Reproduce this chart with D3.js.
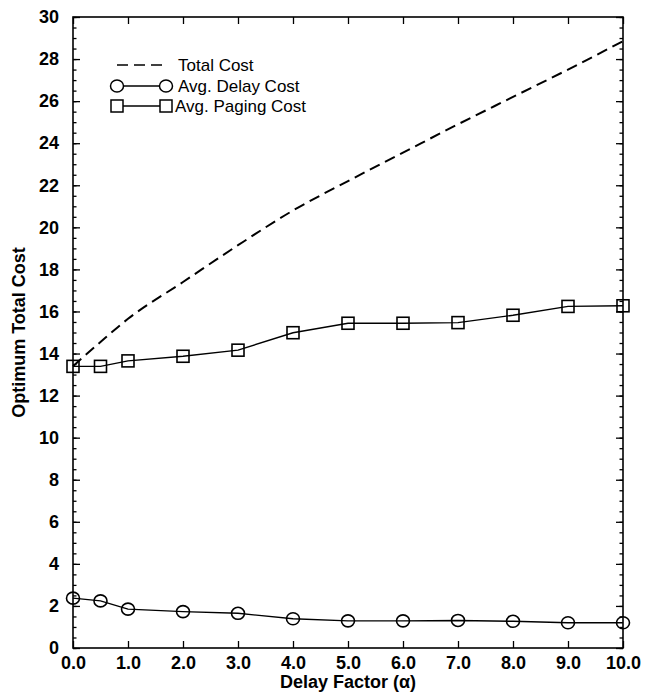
<!DOCTYPE html>
<html>
<head>
<meta charset="utf-8">
<script src="https://cdn.jsdelivr.net/npm/d3@7"></script>
<style>
  body { margin: 0; background: #fff; }
  svg text { font-family: 'Liberation Sans', Arial, sans-serif; fill: #000; }
</style>
</head>
<body>
<svg width="645" height="695"></svg>
<script>
const alphas = [0, 0.5, 1, 2, 3, 4, 5, 6, 7, 8, 9, 10];
const totalCost = [13.4, 14.55, 15.65, 17.4, 19.15, 20.8, 22.2, 23.55, 24.9, 26.2, 27.5, 28.85];
const delayCost = [2.37, 2.24, 1.85, 1.73, 1.65, 1.39, 1.29, 1.29, 1.31, 1.27, 1.2, 1.2];
const pagingCost = [13.39, 13.39, 13.65, 13.87, 14.16, 14.99, 15.44, 15.44, 15.47, 15.82, 16.24, 16.27];
const xTicks = [0, 1, 2, 3, 4, 5, 6, 7, 8, 9, 10];
const yTicks = d3.range(0, 31, 2);
const yMinorTicks = d3.range(0, 30.01, 0.5);
const legendLabels = ['Total Cost', 'Avg. Delay Cost', 'Avg. Paging Cost'];

const svg = d3.select('svg');
const width = +svg.attr('width');
const height = +svg.attr('height');

const margin = {top: 17, right: 22, bottom: 47, left: 73};
const innerWidth = width - margin.left - margin.right;
const innerHeight = height - margin.top - margin.bottom;

const xScale = d3.scaleLinear()
	.domain([0, 10])
	.range([0, innerWidth]);

const yScale = d3.scaleLinear()
	.domain([0, 30])
	.range([innerHeight, 0]);

const g = svg.append('g')
	.attr('transform', `translate(${margin.left}, ${margin.top})`);

// frame
g.append('rect')
	.attr('width', innerWidth)
	.attr('height', innerHeight)
	.attr('fill', 'none')
	.attr('stroke', '#000')
	.attr('stroke-width', 1.6);

// inward ticks on all four sides
const styleAxis = sel => {
	sel.select('.domain').remove();
	sel.selectAll('.tick line').attr('stroke', '#000').attr('stroke-width', 1.3);
	sel.selectAll('.tick text')
		.attr('font-size', 18)
		.attr('font-weight', 'bold')
		.attr('font-family', "'Liberation Sans', Arial, sans-serif");
};
const noLabels = sel => {
	styleAxis(sel);
	sel.selectAll('.tick text').remove();
};

g.append('g')
	.call(d3.axisLeft(yScale).tickValues(yMinorTicks).tickSize(-3.5))
	.call(noLabels);
g.append('g')
	.attr('transform', `translate(${innerWidth}, 0)`)
	.call(d3.axisRight(yScale).tickValues(yMinorTicks).tickSize(-3.5))
	.call(noLabels);

g.append('g')
	.call(d3.axisLeft(yScale).tickValues(yTicks).tickSize(-7).tickPadding(14).tickFormat(d3.format('d')))
	.call(styleAxis);

g.append('g')
	.attr('transform', `translate(${innerWidth}, 0)`)
	.call(d3.axisRight(yScale).tickValues(yTicks).tickSize(-7))
	.call(noLabels);

g.append('g')
	.attr('transform', `translate(0, ${innerHeight})`)
	.call(d3.axisBottom(xScale).tickValues(xTicks).tickSize(-7).tickPadding(8).tickFormat(d3.format('.1f')))
	.call(styleAxis);

g.append('g')
	.call(d3.axisTop(xScale).tickValues(xTicks).tickSize(-7))
	.call(noLabels);

// axis titles
g.append('text')
	.attr('x', innerWidth / 2)
	.attr('y', innerHeight + 40)
	.attr('text-anchor', 'middle')
	.attr('font-size', 18)
	.attr('font-weight', 'bold')
	.text('Delay Factor (α)');

g.append('text')
	.attr('transform', `rotate(-90)`)
	.attr('x', -innerHeight / 2)
	.attr('y', -48)
	.attr('text-anchor', 'middle')
	.attr('font-size', 18)
	.attr('font-weight', 'bold')
	.text('Optimum Total Cost');

// series
const points = values => alphas.map((a, i) => ({x: a, y: values[i]}));

const lineGenerator = d3.line()
	.x(d => xScale(d.x))
	.y(d => yScale(d.y));

g.append('path')
	.attr('d', lineGenerator.curve(d3.curveMonotoneX)(points(totalCost)))
	.attr('fill', 'none')
	.attr('stroke', '#000')
	.attr('stroke-width', 2)
	.attr('stroke-dasharray', '11,6');

lineGenerator.curve(d3.curveLinear);

[delayCost, pagingCost].forEach(values => {
	g.append('path')
		.attr('d', lineGenerator(points(values)))
		.attr('fill', 'none')
		.attr('stroke', '#000')
		.attr('stroke-width', 1.4);
});

g.selectAll('.circle-mark')
	.data(points(delayCost))
	.enter().append('ellipse')
		.attr('cx', d => xScale(d.x))
		.attr('cy', d => yScale(d.y))
		.attr('rx', 6.5)
		.attr('ry', 6)
		.attr('fill', 'none')
		.attr('stroke', '#000')
		.attr('stroke-width', 1.6);

g.selectAll('.square-mark')
	.data(points(pagingCost))
	.enter().append('rect')
		.attr('x', d => xScale(d.x) - 6)
		.attr('y', d => yScale(d.y) - 6)
		.attr('width', 12)
		.attr('height', 12)
		.attr('fill', 'none')
		.attr('stroke', '#000')
		.attr('stroke-width', 1.6);

// legend
const legend = svg.append('g');
const legendRows = [65, 86, 106];
const symX = [117, 166];

legendRows.forEach((y, i) => {
	const line = legend.append('line')
		.attr('x1', symX[0]).attr('x2', symX[1])
		.attr('y1', y).attr('y2', y)
		.attr('stroke', '#000');
	if (i === 0) {
		line.attr('stroke-width', 1.5).attr('stroke-dasharray', '11,6');
	} else {
		line.attr('stroke-width', 1.3);
		symX.forEach(x => {
			if (i === 1) {
				legend.append('ellipse')
					.attr('cx', x).attr('cy', y)
					.attr('rx', 6.5).attr('ry', 6)
					.attr('fill', '#fff').attr('stroke', '#000').attr('stroke-width', 1.5);
			} else {
				legend.append('rect')
					.attr('x', x - 6).attr('y', y - 6)
					.attr('width', 12).attr('height', 12)
					.attr('fill', '#fff').attr('stroke', '#000').attr('stroke-width', 1.5);
			}
		});
	}
	legend.append('text')
		.attr('x', i === 2 ? 175 : 178)
		.attr('y', y)
		.attr('dy', '0.35em')
		.attr('font-size', 17)
		.text(legendLabels[i]);
});
</script>
</body>
</html>
